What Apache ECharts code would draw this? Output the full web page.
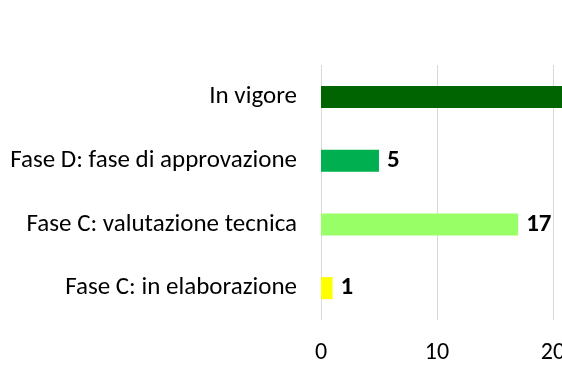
<!DOCTYPE html>
<html><head><meta charset="utf-8">
<script src="https://cdn.jsdelivr.net/npm/echarts@6/dist/echarts.min.js"></script>
<style>html,body{margin:0;padding:0;background:#fff;overflow:hidden;width:562px;height:374px;}#c{width:800px;height:374px;}</style>
</head><body><div id="c"></div>
<script>
const categories = ["Fase C: in elaborazione", "Fase C: valutazione tecnica", "Fase D: fase di approvazione", "In vigore"];
const values = [1, 17, 5, 35];
const colors = ["#ffff00", "#99ff66", "#00b050", "#006400"];
const xTicks = [0, 10, 20, 30, 40];

const chart = echarts.init(document.getElementById('c'), null, {renderer: 'canvas', width: 800, height: 374});
chart.setOption({
  animation: false,
  grid: {left: 321, top: 65, width: 470, height: 255, containLabel: false},
  xAxis: {
    type: 'value', min: xTicks[0], max: xTicks[xTicks.length - 1], interval: 10,
    axisLine: {show: false}, axisTick: {show: false},
    splitLine: {show: true, lineStyle: {color: '#d9d9d9', width: 1}},
    axisLabel: {color: '#000', fontSize: 24, fontFamily: 'Carlito, Lato, sans-serif', margin: 21}
  },
  yAxis: {
    type: 'category', data: categories,
    axisLine: {show: false}, axisTick: {show: false},
    axisLabel: {color: '#000', fontSize: 25, fontFamily: 'Carlito, Lato, sans-serif', margin: 24}
  },
  series: [{
    type: 'bar', barWidth: 22,
    data: values.map((v, i) => ({value: v, itemStyle: {color: colors[i]}})),
    label: {show: true, position: 'right', distance: 8, color: '#000', fontSize: 25, fontWeight: 'bold', fontFamily: 'Carlito, Lato, sans-serif'}
  }]
});
</script></body></html>
